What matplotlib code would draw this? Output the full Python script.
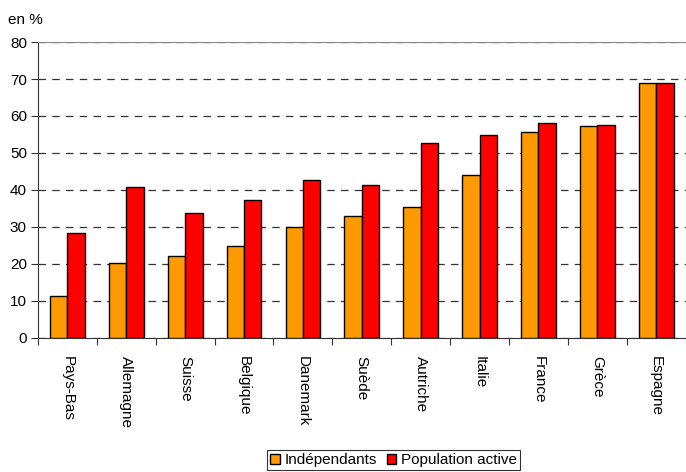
import numpy as np
import matplotlib.pyplot as plt

plt.rcParams['font.family'] = ['Liberation Sans', 'DejaVu Sans']

pays = ['Pays-Bas', 'Allemagne', 'Suisse', 'Belgique', 'Danemark', 'Suède',
        'Autriche', 'Italie', 'France', 'Grèce', 'Espagne']
independants = [11.3, 20.3, 22.1, 24.8, 30.1, 32.9, 35.5, 44.1, 55.8, 57.2, 68.8]
population_active = [28.3, 40.9, 33.8, 37.4, 42.7, 41.4, 52.6, 54.9, 58.0, 57.6, 68.8]

fig = plt.figure(figsize=(6.86, 4.72), dpi=100)
ax = fig.add_axes([0.0554, 0.284, 0.944, 0.627])

x = np.arange(len(pays))
w = 0.295
ax.bar(x - w / 2, independants, w, color='#ff9900', edgecolor='black', linewidth=1, label='Indépendants', zorder=3)
ax.bar(x + w / 2, population_active, w, color='#ff0000', edgecolor='black', linewidth=1, label='Population active', zorder=3)

ax.set_xlim(-0.5, len(pays) - 0.5)
ax.set_ylim(0, 80)
ax.set_yticks(range(0, 81, 10))
ax.yaxis.grid(True, linestyle=(0, (6, 5)), color='#333333', linewidth=0.9)
ax.set_axisbelow(True)

# ticks between categories, labels centered
ax.set_xticks(np.arange(-0.5, len(pays), 1))
ax.set_xticklabels([])
ax.set_xticks(x, minor=True)
ax.set_xticklabels(pays, minor=True, rotation=270, fontsize=11, va='top', ha='center')
ax.tick_params(axis='x', which='minor', length=0, pad=13)
ax.tick_params(axis='x', which='major', length=5, direction='out', color='#333333')
ax.tick_params(axis='y', length=5, direction='out', labelsize=11, color='#333333', pad=3)

ax.spines['right'].set_visible(False)
ax.spines['top'].set_color('#888888')
ax.spines['left'].set_color('#333333')
ax.spines['bottom'].set_color('#333333')

fig.text(0.012, 0.958, 'en %', fontsize=11, ha='left', va='center')

leg = fig.legend(loc='lower center', bbox_to_anchor=(0.574, 0.0), ncol=2, fontsize=11,
                 frameon=True, fancybox=False, edgecolor='black', handlelength=0.65,
                 handleheight=0.65, handletextpad=0.3, columnspacing=0.6,
                 borderpad=0.2, borderaxespad=0.1)
leg.get_frame().set_linewidth(0.8)

fig.savefig('out.png', dpi=100)
